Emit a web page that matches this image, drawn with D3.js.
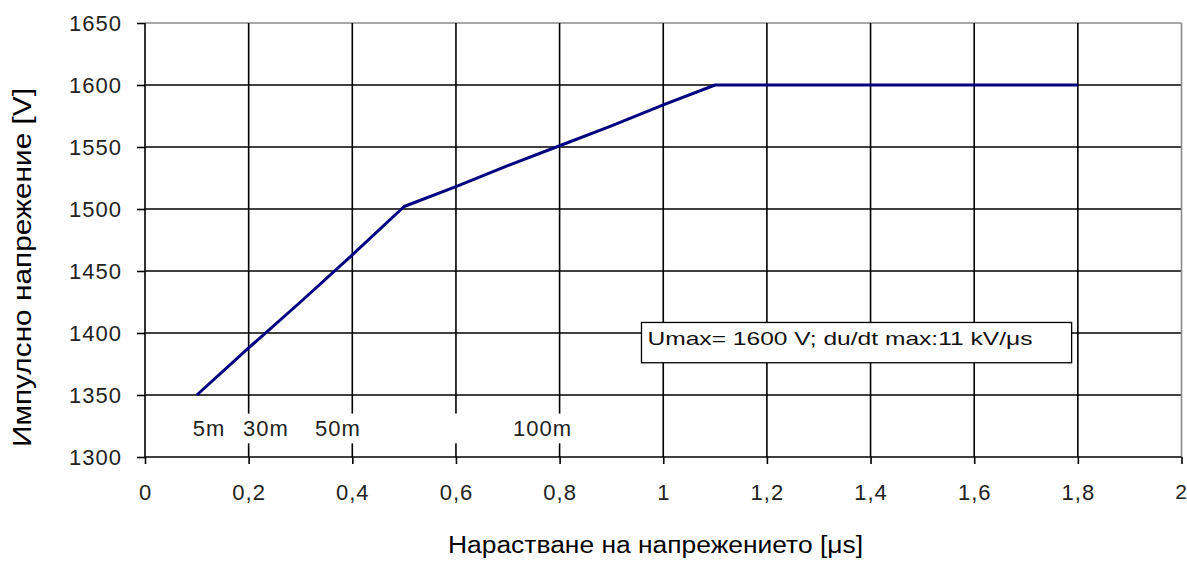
<!DOCTYPE html>
<html>
<head>
<meta charset="utf-8">
<script src="https://cdn.jsdelivr.net/npm/d3@7"></script>
<style>
html,body{margin:0;padding:0;background:#fff;}
svg{display:block;}
text{font-family:"Liberation Sans",Arial,sans-serif;}
</style>
</head>
<body>
<svg id="chart" width="1187" height="563"></svg>
<script>
// ---- data ----
const riseTime = [0.1,0.2,0.3,0.4,0.5,0.6,0.7,0.8,0.9,1.0,1.1,1.2,1.3,1.4,1.5,1.6,1.7,1.8];
const voltage  = [1350,1388,1425,1463,1502,1518,1535,1551,1567,1584,1600,1600,1600,1600,1600,1600,1600,1600];
const xTicks = [0,0.2,0.4,0.6,0.8,1,1.2,1.4,1.6,1.8,2];
const yTicks = [1300,1350,1400,1450,1500,1550,1600,1650];
const lengthLabels = ["5m","30m","50m","100m"];
const lengthLabelX = [0.092,0.189,0.328,0.71];
const noteText = "Umax= 1600 V; du/dt max:11 kV/μs";
const xTitle = "Нарастване на напрежението [μs]";
const yTitle = "Импулсно напрежение [V]";

const svg = d3.select("#chart");
const x = d3.scaleLinear().domain([0,2]).range([145,1181.5]);
const y = d3.scaleLinear().domain([1300,1650]).range([457,23]);
const fmt = d => String(d).replace(".", ",");

// horizontal gridlines
svg.append("g").selectAll("line").data(yTicks.filter(d=>d>1300)).join("line")
  .attr("x1", x(0)).attr("x2", x(2))
  .attr("y1", d=>y(d)).attr("y2", d=>y(d))
  .attr("stroke", d=> d===1650 ? "#8a8a8a" : "#000").attr("stroke-width", 1.6);
// vertical gridlines
svg.append("g").selectAll("line").data(xTicks.filter(d=>d>0)).join("line")
  .attr("x1", d=>x(d)).attr("x2", d=>x(d))
  .attr("y1", y(1650)).attr("y2", y(1300))
  .attr("stroke", d=> d===2 ? "#8a8a8a" : "#000").attr("stroke-width", 1.6);

// white label box over gridlines
svg.append("rect")
  .attr("x", x(0.08)).attr("width", x(0.88)-x(0.08))
  .attr("y", y(1335)).attr("height", y(1311)-y(1335))
  .attr("fill", "#fff");

svg.append("g").selectAll("text").data(lengthLabels).join("text")
  .attr("x", (d,i)=>x(lengthLabelX[i])).attr("y", 436)
  .attr("font-size", 22).attr("letter-spacing", 1).attr("fill", "#222")
  .text(d=>d);

// axes
const yAxis = svg.append("g").attr("transform", `translate(${x(0)},0)`)
  .call(d3.axisLeft(y).tickValues(yTicks).tickSize(8).tickPadding(15).tickFormat(d=>d));
const xAxis = svg.append("g").attr("transform", `translate(0,${y(1300)})`)
  .call(d3.axisBottom(x).tickValues(xTicks).tickSize(7).tickPadding(20).tickFormat(fmt));
[yAxis,xAxis].forEach(a=>{
  a.select(".domain").attr("stroke","#000").attr("stroke-width",1.6);
  a.selectAll(".tick line").attr("stroke","#000").attr("stroke-width",1.6);
  a.selectAll(".tick text").attr("font-size",22).attr("letter-spacing",1).attr("fill","#222")
    .attr("font-family","'Liberation Sans',Arial,sans-serif");
});
xAxis.selectAll(".tick text").filter(d=>d===2).attr("letter-spacing",0).attr("font-size",21).attr("dx",-1);
xAxis.select(".domain").attr("d", `M${x(0)},0H${x(2)}`);
yAxis.select(".domain").attr("d", `M0,${y(1300)}V${y(1650)}`);

// data line
svg.append("path")
  .datum(riseTime.map((t,i)=>[t, voltage[i]]))
  .attr("fill","none").attr("stroke","#000080").attr("stroke-width",3)
  .attr("stroke-linejoin","round")
  .attr("d", d3.line().x(d=>x(d[0])).y(d=>y(d[1])));

// annotation box
const bx0 = x(0.958), bx1 = x(1.788), by0 = y(1408.5), by1 = y(1376);
svg.append("rect").attr("x", bx0).attr("y", by0)
  .attr("width", bx1-bx0).attr("height", by1-by0)
  .attr("fill","#fff").attr("stroke","#000").attr("stroke-width",1.3);
svg.append("text").attr("x", bx0+6).attr("y", by0+23)
  .attr("font-size", 19).attr("fill","#111")
  .attr("textLength", 385).attr("lengthAdjust","spacingAndGlyphs").text(noteText);

// axis titles
svg.append("text").attr("x", 448).attr("y", 553)
  .attr("font-size", 23).attr("fill","#000")
  .attr("textLength", 415).attr("lengthAdjust","spacingAndGlyphs").text(xTitle);
svg.append("text").attr("transform","translate(31,447) rotate(-90)")
  .attr("font-size", 25).attr("fill","#000")
  .attr("textLength", 359).attr("lengthAdjust","spacingAndGlyphs").text(yTitle);
</script>
</body>
</html>
